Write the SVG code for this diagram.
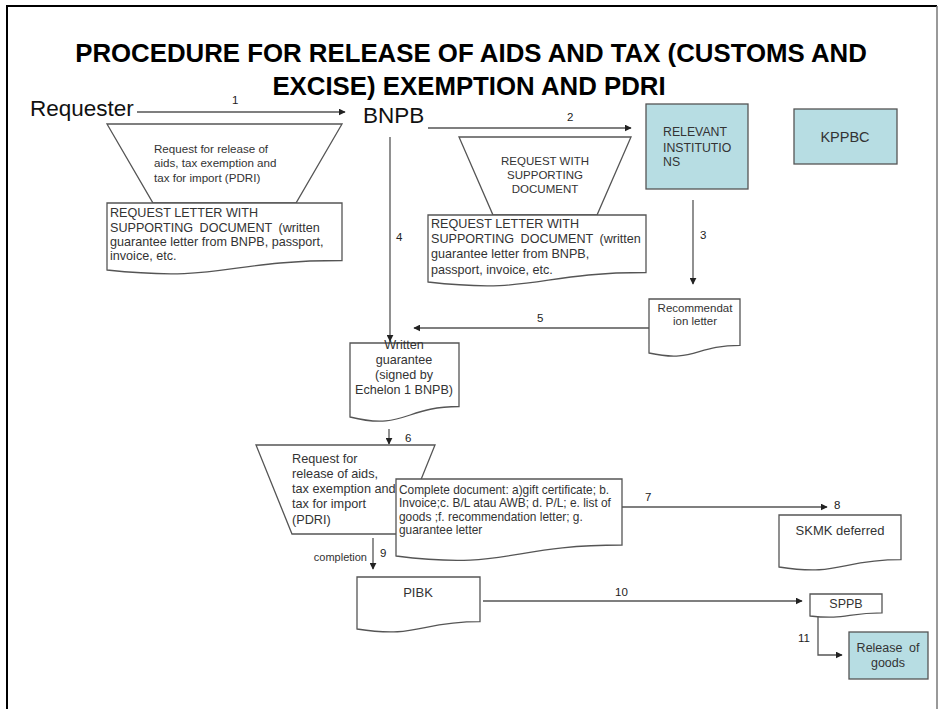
<svg xmlns="http://www.w3.org/2000/svg" width="939" height="709" viewBox="0 0 939 709">
<defs>
<marker id="ah" viewBox="0 0 10 10" refX="9" refY="5" markerWidth="7" markerHeight="7" markerUnits="userSpaceOnUse" orient="auto">
<path d="M0,0 L10,5 L0,10 Z" fill="#222"/>
</marker>
<style>
.t{font-family:"Liberation Sans",Arial,sans-serif;fill:#333;}
.title{font-family:"Liberation Sans",Arial,sans-serif;font-weight:bold;font-size:25.8px;fill:#000;text-anchor:middle;}
.big{font-family:"Liberation Sans",Arial,sans-serif;font-size:22.5px;fill:#111;}
.lbl{font-family:"Liberation Sans",Arial,sans-serif;font-size:11.5px;fill:#222;}
.shape{fill:#fff;stroke:#555;stroke-width:1.3;}
.blue{fill:#b7dde3;stroke:#555;stroke-width:1.3;}
.conn{fill:none;stroke:#555;stroke-width:1.3;marker-end:url(#ah);}
.c{text-anchor:middle;}
</style>
</defs>
<rect width="939" height="709" fill="#fff"/>
<path d="M7,709 V6 H937" fill="none" stroke="#000" stroke-width="2"/>
<path d="M937,6 V709" fill="none" stroke="#777" stroke-width="1.5"/>

<g id="title">
<text class="title" x="471" y="62">PROCEDURE FOR RELEASE OF AIDS AND TAX (CUSTOMS AND</text>
<text class="title" x="469" y="95">EXCISE) EXEMPTION AND PDRI</text>
</g>

<g id="connectors">
<line class="conn" x1="137" y1="112" x2="345" y2="112"/>
<line class="conn" x1="428" y1="128" x2="631" y2="128"/>
<line class="conn" x1="693" y1="200" x2="693" y2="284"/>
<line class="conn" x1="390" y1="137" x2="390" y2="341"/>
<line class="conn" x1="649" y1="328" x2="414" y2="328"/>
<line class="conn" x1="389" y1="429" x2="389" y2="444"/>
<line class="conn" x1="617" y1="507" x2="827" y2="507"/>
<line class="conn" x1="373" y1="538" x2="373" y2="569"/>
<line class="conn" x1="483" y1="601" x2="802" y2="601"/>
<path class="conn" d="M818,616 V655 H842"/>
<text class="lbl" x="232" y="104">1</text>
<text class="lbl" x="567" y="121">2</text>
<text class="lbl" x="700" y="239">3</text>
<text class="lbl" x="396" y="241">4</text>
<text class="lbl" x="537" y="322">5</text>
<text class="lbl" x="405" y="442">6</text>
<text class="lbl" x="645" y="501">7</text>
<text class="lbl" x="834" y="509">8</text>
<text class="lbl" x="380" y="557">9</text>
<text class="lbl" x="615" y="596">10</text>
<text class="lbl" x="798" y="642">11</text>
<text class="t" x="367" y="561" font-size="11" text-anchor="end">completion</text>
</g>

<g id="requester">
<text class="big" x="30" y="116">Requester</text>
</g>

<g id="bnpb">
<text class="big" x="363" y="123">BNPB</text>
</g>

<g id="request1">
<polygon class="shape" points="107,124 342,124 296,203 153,203"/>
<text class="t" font-size="11.6"><tspan x="154" y="153">Request for release of</tspan><tspan x="154" y="167">aids, tax exemption and</tspan><tspan x="154" y="182">tax for import (PDRI)</tspan></text>
</g>

<g id="letter1">
<path class="shape" d="M107,203 H342 V260.5 C224.5,260.5 224.5,282.4 107,270 Z"/>
<text class="t" font-size="12.6"><tspan x="110" y="217">REQUEST LETTER WITH</tspan><tspan x="110" y="232" word-spacing="3">SUPPORTING DOCUMENT (written</tspan><tspan x="110" y="246">guarantee letter from BNPB, passport,</tspan><tspan x="110" y="260">invoice, etc.</tspan></text>
</g>

<g id="request2">
<polygon class="shape" points="459,137 631,137 597,215 493,215"/>
<text class="t c" font-size="11.5"><tspan x="545" y="165">REQUEST WITH</tspan><tspan x="545" y="179">SUPPORTING</tspan><tspan x="545" y="193">DOCUMENT</tspan></text>
</g>

<g id="letter2">
<path class="shape" d="M428,215 H646 V272.5 C537,272.5 537,294.4 428,282 Z"/>
<text class="t" font-size="12.6"><tspan x="431" y="228">REQUEST LETTER WITH</tspan><tspan x="431" y="243" word-spacing="3">SUPPORTING DOCUMENT (written</tspan><tspan x="431" y="258">guarantee letter from BNPB,</tspan><tspan x="431" y="274">passport, invoice, etc.</tspan></text>
</g>

<g id="relevant">
<rect class="blue" x="646" y="104" width="102" height="85"/>
<text class="t" font-size="12.3"><tspan x="663" y="136">RELEVANT</tspan><tspan x="663" y="152">INSTITUTIO</tspan><tspan x="663" y="166">NS</tspan></text>
</g>

<g id="kppbc">
<rect class="blue" x="794" y="109" width="103" height="55"/>
<text class="t c" x="845" y="142" font-size="14.5">KPPBC</text>
</g>

<g id="recommendation">
<path class="shape" d="M649,299 H740 V345.4 C694.5,345.4 694.5,363 649,353 Z"/>
<text class="t c" font-size="11.5"><tspan x="695" y="312">Recommendat</tspan><tspan x="695" y="325">ion letter</tspan></text>
</g>

<g id="guarantee">
<path class="shape" d="M350,343 H459 V406.5 C404.5,406.5 404.5,430.7 350,417 Z"/>
<text class="t c" font-size="12.6"><tspan x="404" y="349">Written</tspan><tspan x="404" y="364">guarantee</tspan><tspan x="404" y="379">(signed by</tspan><tspan x="404" y="394">Echelon 1 BNPB)</tspan></text>
</g>

<g id="request3">
<polygon class="shape" points="256,445 435,445 399,534 292,534"/>
<text class="t" font-size="12.7"><tspan x="292" y="463">Request for</tspan><tspan x="292" y="478">release of aids,</tspan><tspan x="292" y="493">tax exemption and</tspan><tspan x="292" y="508">tax for import</tspan><tspan x="292" y="524">(PDRI)</tspan></text>
</g>

<g id="complete">
<path class="shape" d="M396,479 H622 V545 C509,545 509,570.2 396,556 Z"/>
<text class="t" font-size="11.9"><tspan x="399" y="494">Complete document: a)gift certificate; b.</tspan><tspan x="399" y="507">Invoice;c. B/L atau AWB; d. P/L; e. list of</tspan><tspan x="399" y="521">goods ;f. recommendation letter; g.</tspan><tspan x="399" y="534">guarantee letter</tspan></text>
</g>

<g id="skmk">
<path class="shape" d="M779,515 H901 V559.7 C840,559.7 840,576.6 779,567 Z"/>
<text class="t c" x="840" y="535" font-size="13">SKMK deferred</text>
</g>

<g id="pibk">
<path class="shape" d="M357,577 H480 V621.7 C418.5,621.7 418.5,638.6 357,629 Z"/>
<text class="t c" x="418" y="597" font-size="13">PIBK</text>
</g>

<g id="sppb">
<path class="shape" d="M810,594 H882 V612.9 C846,612.9 846,620 810,616 Z"/>
<text class="t c" x="846" y="608" font-size="12.5">SPPB</text>
</g>

<g id="release">
<rect class="blue" x="849" y="632" width="79" height="47"/>
<text class="t c" font-size="12.5"><tspan x="888" y="652" word-spacing="3">Release of</tspan><tspan x="888" y="667">goods</tspan></text>
</g>
</svg>
